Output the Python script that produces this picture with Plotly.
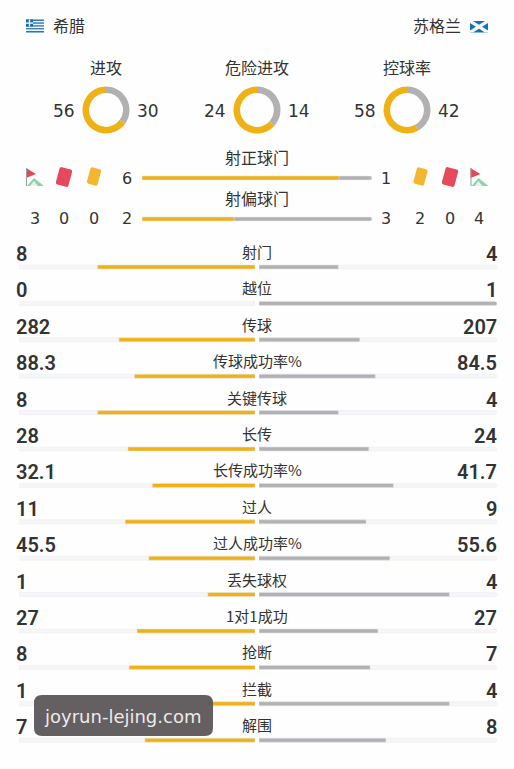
import math
import plotly.graph_objects as go

W, H = 514, 769
team_left = "希腊"
team_right = "苏格兰"
donut_titles = ["进攻", "危险进攻", "控球率"]
donut_left = [56, 24, 58]
donut_right = [30, 14, 42]
donut_centers = [106, 257, 407]
top_titles = ["射正球门", "射偏球门"]
top_left = [6, 2]
top_right = [1, 3]
corner_left, red_left, yellow_left = 3, 0, 0
yellow_right, red_right, corner_right = 2, 0, 4
categories = ["射门", "越位", "传球", "传球成功率%", "关键传球", "长传", "长传成功率%",
              "过人", "过人成功率%", "丢失球权", "1对1成功", "抢断", "拦截", "解围"]
left_labels = ["8", "0", "282", "88.3", "8", "28", "32.1", "11", "45.5", "1", "27", "8", "1", "7"]
right_labels = ["4", "1", "207", "84.5", "4", "24", "41.7", "9", "55.6", "4", "27", "7", "4", "8"]
left_values = [float(v) for v in left_labels]
right_values = [float(v) for v in right_labels]

GOLD, GREY, TRACK, INK = "#f0b114", "#b2b0b1", "#f8f5f5", "#333333"
CJK = "Noto Sans CJK SC"
NUM = "DejaVu Sans"
ROW = "Roboto"

px = lambda x: x / W
py = lambda y: 1 - y / H

fig = go.Figure()
rows = list(range(len(categories)))
left_share = [l / (l + r) for l, r in zip(left_values, right_values)]
right_share = [r / (l + r) for l, r in zip(left_values, right_values)]
bw = 4 / 36.4

fig.add_bar(y=rows, x=[1.01] * len(rows), orientation="h", width=bw, marker_color=TRACK, xaxis="x", yaxis="y", hoverinfo="skip")
fig.add_bar(y=rows, x=[1] * len(rows), orientation="h", width=bw, marker_color=TRACK, xaxis="x2", yaxis="y", hoverinfo="skip")
fig.add_bar(y=rows, x=left_share, orientation="h", width=bw, marker_color=GOLD, xaxis="x", yaxis="y", name=team_left)
fig.add_bar(y=rows, x=right_share, orientation="h", width=bw, marker_color=GREY, xaxis="x2", yaxis="y", name=team_right)

top_rows = [0, 1]
top_share = [l / (l + r) for l, r in zip(top_left, top_right)]
tw = 4 / 41
fig.add_bar(y=top_rows, x=[1, 1], orientation="h", width=tw, marker_color=GREY, xaxis="x3", yaxis="y3", hoverinfo="skip")
fig.add_bar(y=top_rows, x=top_share, orientation="h", width=tw, marker_color=GOLD, xaxis="x3", yaxis="y3")

for c, l, r in zip(donut_centers, donut_left, donut_right):
    fig.add_pie(values=[r, l], marker=dict(colors=[GREY, GOLD], line=dict(width=0)), hole=0.72,
                sort=False, direction="counterclockwise", rotation=0, textinfo="none",
                domain=dict(x=[px(c - 23.5), px(c + 23.5)], y=[py(110 + 23.5), py(110 - 23.5)]))

ann = []
def text(x, y, s, size=15, font=CJK, color=INK, anchor="center", weight=None):
    f = dict(family=font, size=size, color=color)
    if weight:
        f["weight"] = weight
    ann.append(dict(x=px(x), y=py(y), xref="paper", yref="paper", text=str(s), showarrow=False,
                    xanchor=anchor, yanchor="middle", font=f, borderpad=0))

text(52, 25, team_left, 16, anchor="left")
text(462, 25, team_right, 16, anchor="right")
for c, t, l, r in zip(donut_centers, donut_titles, donut_left, donut_right):
    text(c, 66.5, t, 16)
    text(c - 42, 111, l, 17, NUM)
    text(c + 42, 111, r, 17, NUM)
for y, t in zip([156.5, 197.5], top_titles):
    text(257, y, t, 16)
for y, l, r in zip([178, 219], top_left, top_right):
    text(127, y, l, 16, NUM)
    text(386, y, r, 16, NUM)
for x, v in zip([35, 64, 94], [corner_left, red_left, yellow_left]):
    text(x, 219, v, 16, NUM)
for x, v in zip([420, 450, 479], [yellow_right, red_right, corner_right]):
    text(x, 219, v, 16, NUM)

for i, (cat, l, r) in enumerate(zip(categories, left_labels, right_labels)):
    base = dict(xref="paper", yref="y", y=i, showarrow=False, yanchor="middle")
    ann.append(dict(base, x=px(14), text=l, xanchor="left", yshift=13,
                    font=dict(family=ROW, size=20, color=INK, weight=600)))
    ann.append(dict(base, x=px(499), text=r, xanchor="right", yshift=13,
                    font=dict(family=ROW, size=20, color=INK, weight=600)))
    ann.append(dict(base, x=px(257), text=cat, xanchor="center", yshift=15.5,
                    font=dict(family=CJK, size=15, color=INK)))

# watermark
text(122, 716.5, "joyrun-lejing.com", 18, NUM, "#eeeaea")

shapes = []
def poly(points, color, opacity=1, close=True):
    d = "M" + " L".join(f"{px(x):.5f},{py(y):.5f}" for x, y in points) + (" Z" if close else "")
    shapes.append(dict(type="path", xref="paper", yref="paper", path=d, fillcolor=color, opacity=opacity,
                       line=dict(width=0), layer="above"))

def rect(x0, y0, x1, y1, color):
    shapes.append(dict(type="rect", xref="paper", yref="paper", x0=px(x0), x1=px(x1), y0=py(y0), y1=py(y1),
                       fillcolor=color, line=dict(width=0), layer="above"))

def rounded(corners, r, color, opacity=1):
    """Closed rounded polygon through four pixel corners."""
    P = lambda p: f"{px(p[0]):.5f},{py(p[1]):.5f}"
    n = len(corners)
    parts = []
    for i in range(n):
        prev, cur, nxt = corners[i - 1], corners[i], corners[(i + 1) % n]
        def toward(a, b):
            d = math.hypot(b[0] - a[0], b[1] - a[1])
            return (a[0] + (b[0] - a[0]) * r / d, a[1] + (b[1] - a[1]) * r / d)
        a, b = toward(cur, prev), toward(cur, nxt)
        parts.append(("M" if i == 0 else "L") + P(a) + " Q" + P(cur) + " " + P(b))
    shapes.append(dict(type="path", xref="paper", yref="paper", path=" ".join(parts) + " Z", fillcolor=color,
                       opacity=opacity, line=dict(width=0), layer="above"))

def card(cx, cy, w, h, deg, color):
    a = math.radians(deg)
    pts = []
    for dx, dy in [(-w / 2, -h / 2), (w / 2, -h / 2), (w / 2, h / 2), (-w / 2, h / 2)]:
        pts.append((cx + dx * math.cos(a) - dy * math.sin(a), cy + dx * math.sin(a) + dy * math.cos(a)))
    rounded(pts, 2, color)

def corner_flag(x0):
    poly([(x0, 168), (x0 + 10, 174), (x0, 178)], "#e2475a")
    rect(x0, 168, x0 + 1, 186, "#8fa39a")
    poly([(x0 + 1, 186), (x0 + 8, 178), (x0 + 18, 186)], "#8fd0ae")
    poly([(x0 + 4, 186), (x0 + 8, 181), (x0 + 12, 186)], "#e6f4ec")

# Greek flag
for k in range(9):
    y0 = 19.5 + k * 13 / 9
    rect(26, y0, 44, y0 + 13 / 9, "#1c6ca8" if k % 2 == 0 else "#eef5fa")
rect(26, 19.5, 33, 26.7, "#1c6ca8")
rect(28.8, 19.5, 30.2, 26.7, "#eef5fa")
rect(26, 22.4, 33, 23.8, "#eef5fa")

# Scottish flag
rect(470, 21, 488, 32.5, "#1673b8")
poly([(470, 21), (473, 21), (488, 30.5), (488, 32.5), (485, 32.5), (470, 23)], "#f4f8fb")
poly([(488, 21), (485, 21), (470, 30.5), (470, 32.5), (473, 32.5), (488, 23)], "#f4f8fb")

corner_flag(26)
card(64, 177, 13, 18, 15, "#e6495b")
card(94, 176.5, 11, 17, 15, "#f4b52f")
card(420.5, 176.5, 11, 17, 15, "#f4b52f")
card(450, 177, 13, 18, 15, "#e6495b")
corner_flag(470.5)

rounded([(34, 695), (213, 695), (213, 736), (34, 736)], 8, "#5f5a5c", 0.97)

hidden = dict(visible=False, fixedrange=True)
fig.update_layout(
    width=W, height=H, margin=dict(l=0, r=0, t=0, b=0), autosize=False,
    paper_bgcolor="#fefefe", plot_bgcolor="rgba(0,0,0,0)", showlegend=False,
    barmode="overlay", barcornerradius=2, annotations=ann, shapes=shapes,
    xaxis=dict(hidden, domain=[px(19), px(255)], range=[1, 0], anchor="y"),
    xaxis2=dict(hidden, domain=[px(259), px(497)], range=[0, 1], anchor="y"),
    xaxis3=dict(hidden, domain=[px(142), px(372)], range=[0, 1], anchor="y3"),
    yaxis=dict(hidden, domain=[py(267 + 36.4 * 13.5), py(267 - 36.4 * 0.5)], range=[13.5, -0.5], anchor="x"),
    yaxis3=dict(hidden, domain=[py(178 + 41 * 1.5), py(178 - 41 * 0.5)], range=[1.5, -0.5], anchor="x3"),
)
fig.write_html("out.html", config={"displayModeBar": False},
               post_script="document.body.style.margin='0';document.body.style.background='#fefefe';document.body.style.overflow='hidden';")
